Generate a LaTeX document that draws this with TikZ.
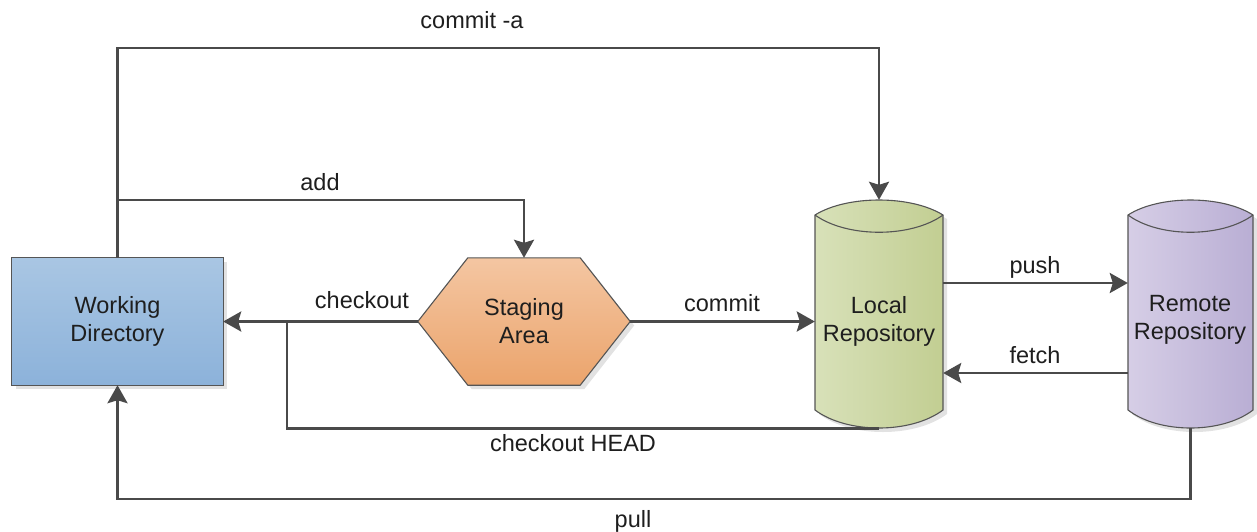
\documentclass[tikz,border=0pt]{standalone}
\usepackage{fontspec}
\setmainfont{Liberation Sans}
\usetikzlibrary{arrows.meta,calc}
\definecolor{ln}{HTML}{4A4A4A}
\definecolor{bd}{HTML}{555555}
\definecolor{txt}{HTML}{1E1E1E}
\definecolor{shd}{HTML}{E2E2E2}
\definecolor{wdtop}{HTML}{A9C6E3}
\definecolor{wdbot}{HTML}{8CB2DA}
\definecolor{satop}{HTML}{F4C6A2}
\definecolor{sabot}{HTML}{EBA46C}
\definecolor{lrl}{HTML}{D8E1B9}
\definecolor{lrr}{HTML}{C2CE92}
\definecolor{rrl}{HTML}{D6CEE6}
\definecolor{rrr}{HTML}{B9AED4}
\begin{document}
\begin{tikzpicture}[x=1pt,y=-1pt,
  lbl/.style={font=\fontsize{23.5}{28}\selectfont, text=txt, inner sep=0pt, align=center},
  conn/.style={draw=ln, line width=2.8pt, -{Stealth[length=18pt,width=20pt,inset=3pt]}},
  plainline/.style={draw=ln, line width=2.8pt},
  shadowed/.style={preaction={fill=shd, transform canvas={shift={(4pt,-4pt)}}}},
  shapeline/.style={draw=bd, line width=1.1pt},
  anchorbox/.style={draw=none, inner sep=0pt}]
\useasboundingbox (0,0) rectangle (1257,531);

% Working Directory
\node[anchorbox, minimum width=211pt, minimum height=127pt] (wd) at (117.5,321.5) {};
\path[shadowed, shapeline, top color=wdtop, bottom color=wdbot] (wd.north west) rectangle (wd.south east);
\node[lbl] (wdt) at (wd.center) {Working\\Directory};

% Staging Area
\node[anchorbox, minimum width=212pt, minimum height=127pt] (sa) at (524,321.5) {};
\path[shadowed, shapeline, top color=satop, bottom color=sabot]
  (sa.west) -- ($(sa.north west)+(50,0)$) -- ($(sa.north east)+(-50,0)$) -- (sa.east)
  -- ($(sa.south east)+(-50,0)$) -- ($(sa.south west)+(50,0)$) -- cycle;
\node[lbl] (sat) at (sa.center) {Staging\\Area};

% Local Repository
\node[anchorbox, minimum width=128pt, minimum height=228pt] (lr) at (879,314) {};
\path[shadowed, shapeline, left color=lrl, right color=lrr]
  (815,215) -- (815,410) .. controls (847,434) and (911,434) .. (943,410)
  -- (943,215) .. controls (911,195) and (847,195) .. (815,215) -- cycle;
\draw[shapeline] (815,215) .. controls (847,238) and (911,238) .. (943,215);
\node[lbl] (lrt) at (879,321) {Local\\Repository};

% Remote Repository
\node[anchorbox, minimum width=125pt, minimum height=228pt] (rr) at (1190.5,314) {};
\path[shadowed, shapeline, left color=rrl, right color=rrr]
  (1128,215) -- (1128,410) .. controls (1159,434) and (1222,434) .. (1253,410)
  -- (1253,215) .. controls (1222,195) and (1159,195) .. (1128,215) -- cycle;
\draw[shapeline] (1128,215) .. controls (1159,238) and (1222,238) .. (1253,215);
\node[lbl] (rrt) at (1190,320) {Remote\\Repository};

% helper coordinates
\coordinate (topy) at (0,48);
\coordinate (addsplit) at (117.5,200);
\coordinate (cj) at (287,321.5);
\coordinate (pushy) at (0,283);
\coordinate (fetchy) at (0,373);
\coordinate (pully) at (0,499);

% connectors
\draw[conn] (wd.north) -- (wd.north |- topy) -| (lr.north);
\draw[conn] (addsplit) -| (sa.north);
\draw[conn] (sa.east) -- (sa.east -| lr.west);
\draw[conn] (sa.west) -- (sa.west -| wd.east);
\draw[plainline] (lr.south) -| (cj);
\draw[conn] (lr.east |- pushy) -- (rr.west |- pushy);
\draw[conn] (rr.west |- fetchy) -- (lr.east |- fetchy);
\draw[conn] (rr.south) -- (rr.south |- pully) -| (wd.south);

% labels
\node[lbl] (l1) at (472,20) {commit -a};
\node[lbl] (l2) at (320,182) {add};
\node[lbl] (l3) at (362,300) {checkout};
\node[lbl] (l4) at (722,303) {commit};
\node[lbl] (l5) at (573,443) {checkout HEAD};
\node[lbl] (l6) at (1035,267) {push};
\node[lbl] (l7) at (1035,355) {fetch};
\node[lbl] (l8) at (633,521) {pull};
\end{tikzpicture}
\end{document}
